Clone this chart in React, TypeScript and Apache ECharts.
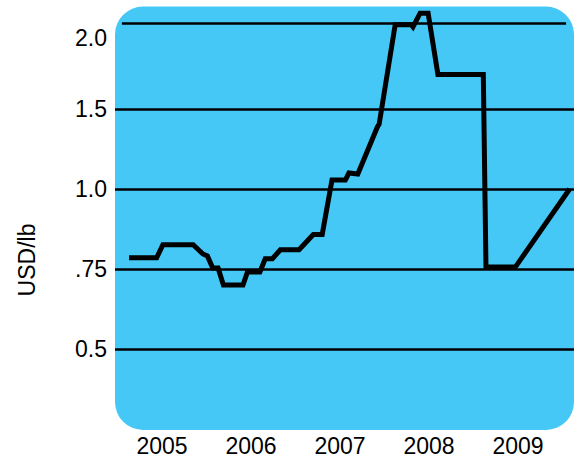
import React, { useEffect, useRef } from "react";
import * as echarts from "echarts";

// x: fractional year, y: price in USD/lb
const priceDates = [
  2004.63, 2004.94, 2005.01, 2005.35, 2005.46, 2005.51, 2005.57, 2005.63, 2005.69,
  2005.91, 2005.96, 2006.1, 2006.16, 2006.24, 2006.33, 2006.54, 2006.7, 2006.8,
  2006.91, 2007.06, 2007.1, 2007.2, 2007.42, 2007.44, 2007.62, 2007.8, 2007.82,
  2007.9, 2007.99, 2008.1, 2008.61, 2008.64, 2008.97, 2009.58,
];
const priceUsd = [
  0.785, 0.785, 0.826, 0.826, 0.797, 0.791, 0.753, 0.753, 0.7,
  0.7, 0.741, 0.741, 0.782, 0.782, 0.81, 0.81, 0.858, 0.858,
  1.056, 1.056, 1.1, 1.094, 1.388, 1.406, 1.99, 1.99, 1.977,
  2.057, 2.057, 1.701, 1.701, 0.756, 0.756, 1.0,
];

const xYears = [2005, 2006, 2007, 2008, 2009];
const yTickValues = [0.5, 0.75, 1.0, 1.5, 2.0];
const yTickLabels = ["0.5", ".75", "1.0", "1.5", "2.0"];
// the chart's nonlinear value scale: where each tick value sits on the axis
const yTickSteps = [0, 1, 2, 3, 4.075];

function toPos(v: number): number {
  const n = yTickValues.length;
  let i = 0;
  if (v <= yTickValues[0]) i = 0;
  else if (v >= yTickValues[n - 1]) i = n - 2;
  else {
    while (i < n - 2 && v > yTickValues[i + 1]) i++;
  }
  const a = yTickValues[i], b = yTickValues[i + 1];
  const pa = yTickSteps[i], pb = yTickSteps[i + 1];
  return pa + ((v - a) / (b - a)) * (pb - pa);
}

const FONT = "'Liberation Sans', Arial, sans-serif";

export default function App() {
  const ref = useRef<HTMLDivElement>(null);
  useEffect(() => {
    document.body.style.margin = "0";
    const chart = echarts.init(ref.current!, null, { renderer: "svg" });
    const gridLeft = 115, gridRight = 5, gridTop = 6, gridBottom = 27;
    const xMin = 2004.472, xMax = 2009.629;
    const yMin = -1.0125, yMax = 4.2875;
    const topPos = toPos(yTickValues[yTickValues.length - 1]);
    const gridLineData: any[] = yTickValues.slice(0, -1).map((v) => ({ yAxis: toPos(v) }));
    gridLineData.push([
      { coord: [2004.55, topPos] },
      { coord: [2009.54, topPos] },
    ]);
    chart.setOption({
      animation: false,
      graphic: [
        {
          type: "rect",
          z: 0,
          shape: { x: 115, y: 6.5, width: 459, height: 423.5, r: 28 },
          style: { fill: "#45C8F5" },
        },
        {
          type: "text",
          x: 27,
          y: 260,
          rotation: Math.PI / 2,
          style: {
            text: "USD/lb",
            fill: "#000",
            font: `23px ${FONT}`,
            textAlign: "center",
            textVerticalAlign: "middle",
          },
        },
      ],
      grid: { left: gridLeft, right: gridRight, top: gridTop, bottom: gridBottom },
      xAxis: {
        type: "value",
        min: xMin,
        max: xMax,
        axisLine: { show: false },
        axisTick: { show: false },
        splitLine: { show: false },
        axisLabel: {
          customValues: xYears,
          formatter: (v: number) => String(Math.round(v)),
          color: "#000",
          fontSize: 23,
          fontFamily: FONT,
          margin: 4,
        },
      },
      yAxis: {
        type: "value",
        min: yMin,
        max: yMax,
        axisLine: { show: false },
        axisTick: { show: false },
        splitLine: { show: false },
        axisLabel: {
          customValues: yTickValues.map(toPos),
          formatter: (v: number) => {
            let best = 0;
            yTickValues.forEach((t, i) => {
              if (Math.abs(toPos(t) - v) < Math.abs(toPos(yTickValues[best]) - v)) best = i;
            });
            const s = yTickLabels[best];
            return best === yTickValues.length - 1 ? `{top|${s}}` : s;
          },
          rich: { top: { padding: [30, 0, 0, 0], fontSize: 23, fontFamily: FONT, color: "#000" } },
          color: "#000",
          fontSize: 23,
          fontFamily: FONT,
          margin: 8,
        },
      },
      series: [
        {
          type: "line",
          data: priceDates.map((d, i) => [d, toPos(priceUsd[i])]),
          showSymbol: false,
          symbol: "none",
          lineStyle: { color: "#000", width: 5, cap: "butt", join: "miter" },
          z: 3,
          markLine: {
            silent: true,
            symbol: "none",
            label: { show: false },
            lineStyle: { color: "#000", width: 2.5, type: "solid" },
            data: gridLineData,
            z: 2,
          },
        },
      ],
    });
    return () => chart.dispose();
  }, []);
  return (
    <div
      ref={ref}
      style={{ position: "absolute", left: 0, top: 0, width: 579, height: 457 }}
    />
  );
}
